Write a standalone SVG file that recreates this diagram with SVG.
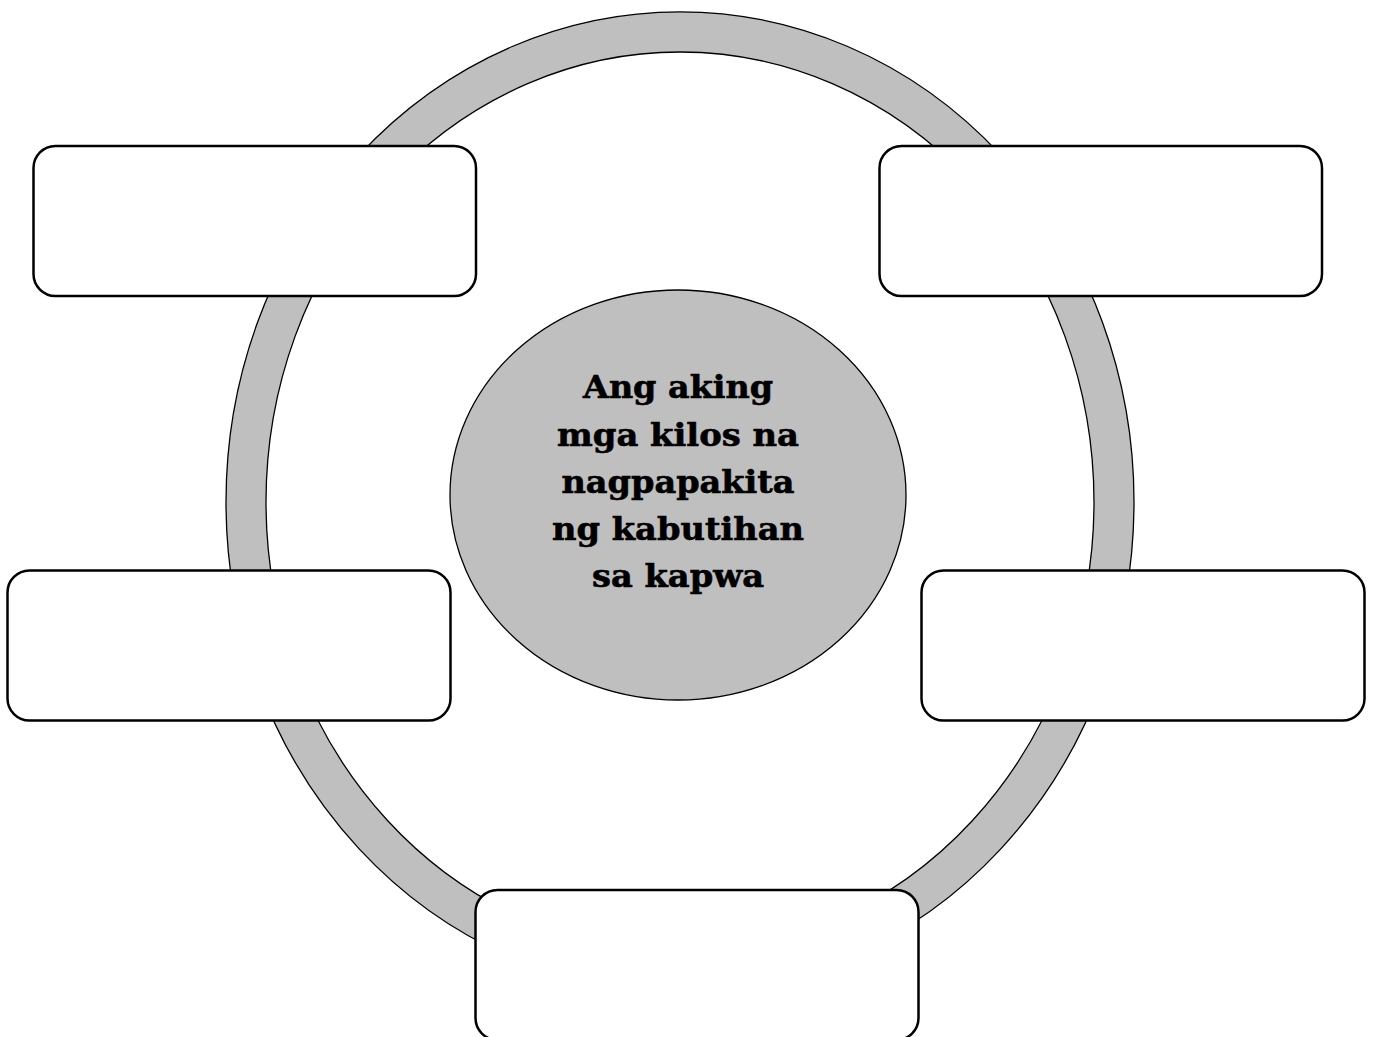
<svg xmlns="http://www.w3.org/2000/svg" width="1373" height="1037" viewBox="0 0 1373 1037">
<style>
.ring{fill:#bfbfbf;stroke:#000;stroke-width:1.3;fill-rule:evenodd}
.box{fill:#fff;stroke:#000;stroke-width:2.5}
.hub{fill:#bfbfbf;stroke:#000;stroke-width:1.3}
.lbl{font-family:"DejaVu Serif","Liberation Serif",serif;font-weight:bold;font-size:32px;fill:#000;text-anchor:middle;stroke:#000;stroke-width:0.6}
</style>
<rect width="1373" height="1037" fill="#fff"/>
<g id="ring">
<path class="ring" d="M226,502 A454,490 0 1,0 1134,502 A454,490 0 1,0 226,502 Z M266,502 A414,450 0 1,0 1094,502 A414,450 0 1,0 266,502 Z"/>
</g>
<g id="connectors"></g>
<g id="box-top-left"><rect class="box" x="33.5" y="146" width="442.5" height="150" rx="22"/></g>
<g id="box-top-right"><rect class="box" x="879.5" y="146" width="442.5" height="150" rx="22"/></g>
<g id="box-mid-left"><rect class="box" x="7.5" y="570.5" width="443" height="150" rx="22"/></g>
<g id="box-mid-right"><rect class="box" x="921.5" y="570.5" width="443" height="150" rx="22"/></g>
<g id="box-bottom"><rect class="box" x="475.5" y="890" width="443" height="150" rx="22"/></g>
<g id="hub">
<ellipse class="hub" cx="678" cy="495" rx="228" ry="205"/>
<text class="lbl" x="678" y="398" textLength="190" lengthAdjust="spacingAndGlyphs">Ang aking</text>
<text class="lbl" x="678" y="446" textLength="242" lengthAdjust="spacingAndGlyphs">mga kilos na</text>
<text class="lbl" x="678" y="493" textLength="233" lengthAdjust="spacingAndGlyphs">nagpapakita</text>
<text class="lbl" x="678" y="540" textLength="252" lengthAdjust="spacingAndGlyphs">ng kabutihan</text>
<text class="lbl" x="678" y="587" textLength="172" lengthAdjust="spacingAndGlyphs">sa kapwa</text>
</g>
</svg>
